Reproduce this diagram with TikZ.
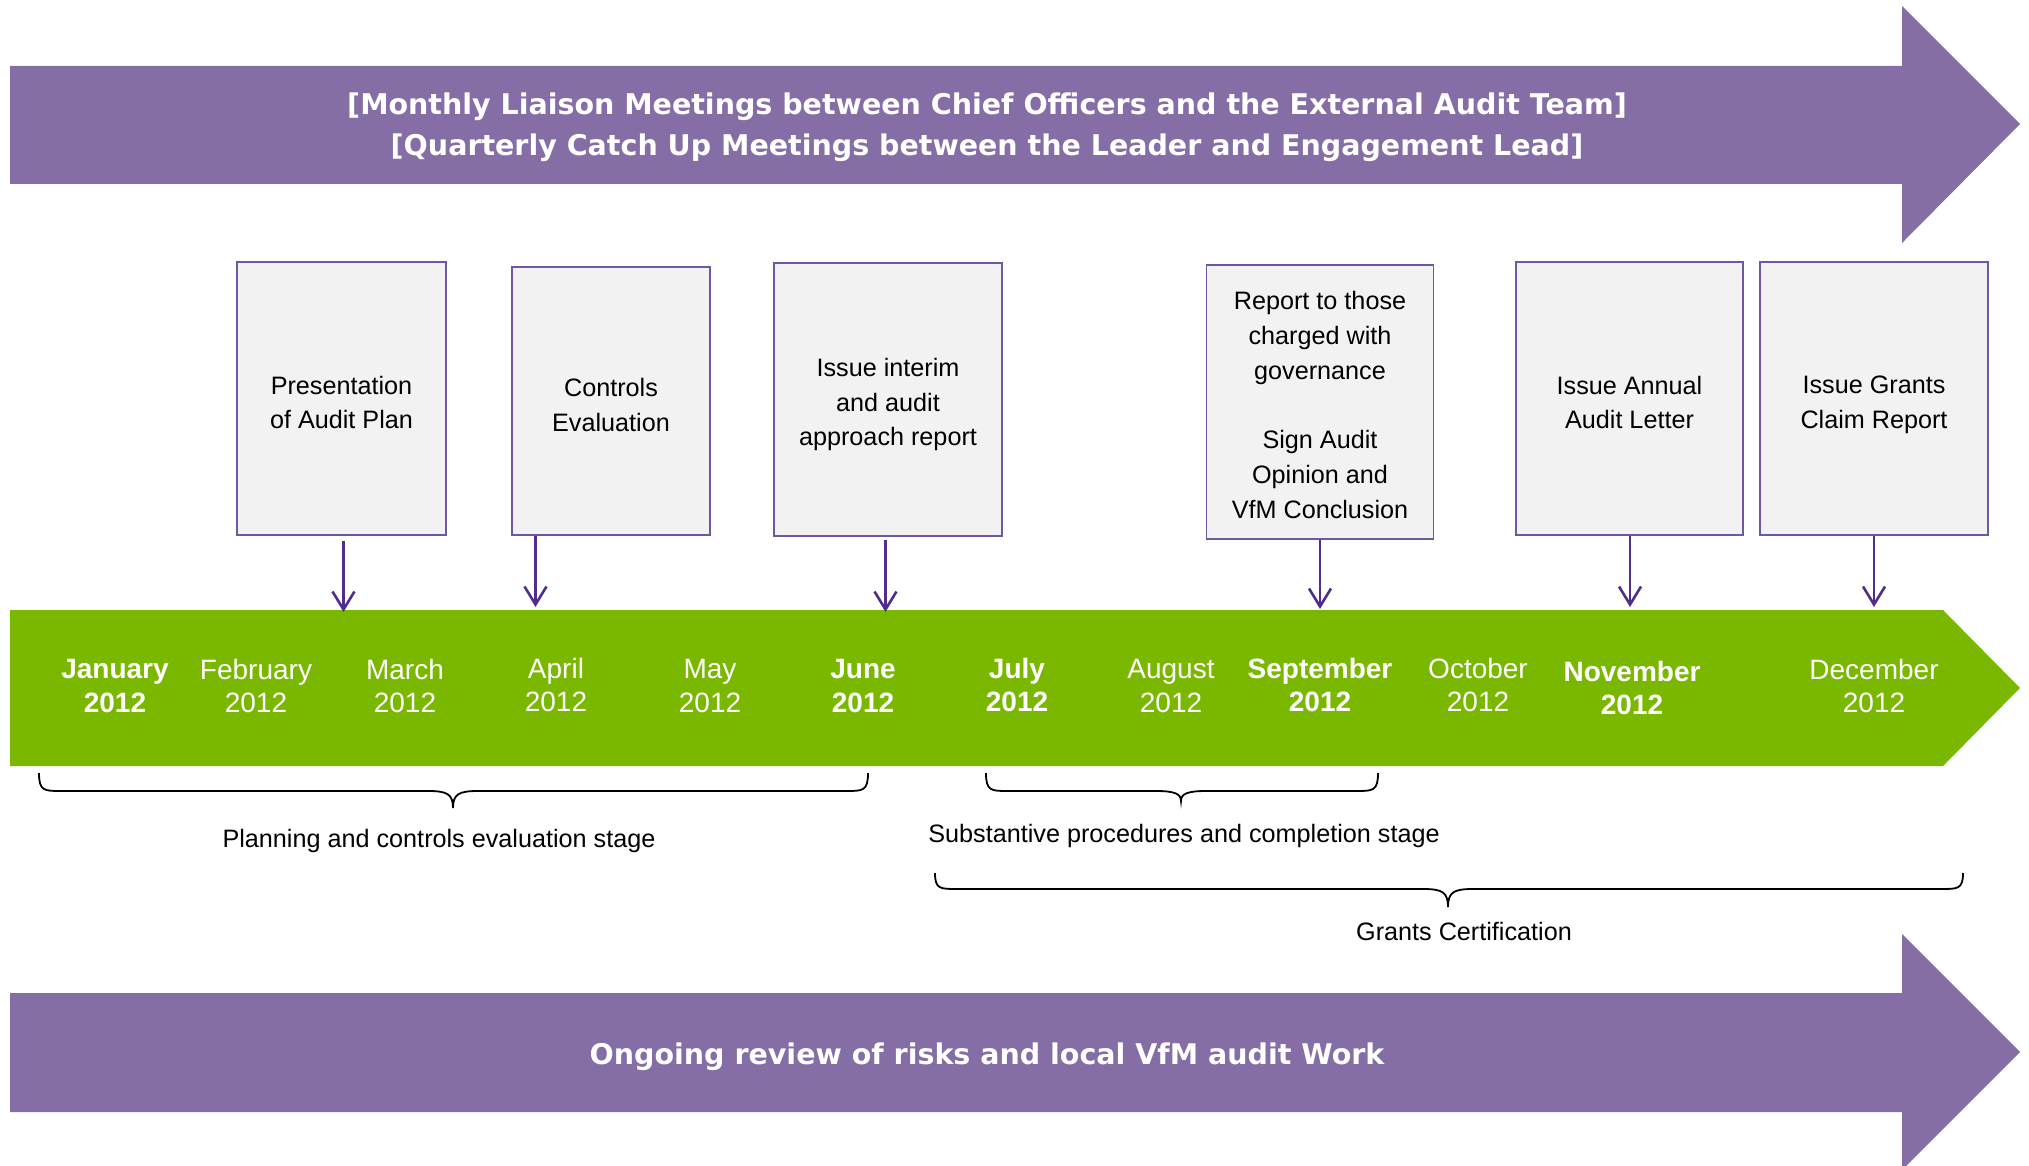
\documentclass[tikz,border=0pt]{standalone}
\usepackage{fontspec}
\setmainfont{Liberation Sans}
\newfontfamily\bannerfont{DejaVu Sans}
\usetikzlibrary{arrows.meta}
\definecolor{bandpurple}{RGB}{133,110,165}
\definecolor{bandgreen}{RGB}{122,184,0}
\definecolor{boxedge}{RGB}{112,88,160}
\definecolor{boxfill}{RGB}{242,242,242}
\definecolor{pointer}{RGB}{80,45,140}

% curly brace: left x, right x, middle x, end y, bar y, tip y
\newcommand\drawbrace[6]{%
  \draw[bracestroke] (#1,#4) .. controls (#1,#5) and ({#1+5},#5) .. ({#1+22},#5)
    -- ({#3-25},#5) .. controls ({#3-6},#5) and (#3,{#5+3}) .. (#3,#6)
    .. controls (#3,{#5+3}) and ({#3+6},#5) .. ({#3+25},#5)
    -- ({#2-22},#5) .. controls ({#2-5},#5) and (#2,#5) .. (#2,#4);}

\begin{document}
\begin{tikzpicture}[x=1pt,y=-1pt,
  eventbox/.style={draw=boxedge, fill=boxfill, line width=1.6pt, inner sep=0pt},
  eventtext/.style={inner sep=0pt, align=center,
    font=\fontsize{25.2}{34.8}\selectfont},
  pointerline/.style={draw=pointer, line width=2.6pt,
    -{Straight Barb[length=18pt,width=22pt]}},
  monthlabel/.style={text=white, align=center, inner sep=0pt,
    font=\fontsize{28}{33.6}\selectfont},
  bannertext/.style={text=white, align=center, inner sep=0pt,
    font=\bannerfont\bfseries\fontsize{28.5}{41.4}\selectfont},
  bracelabel/.style={inner sep=0pt, font=\fontsize{25.2}{30}\selectfont},
  bracestroke/.style={draw=black, line width=1.8pt}]

\useasboundingbox (0,0) rectangle (2029,1166);
\clip (0,0) rectangle (2029,1166);

% banner arrows
\fill[bandpurple] (10,66) -- (1902,66) -- (1902,6) -- (2020,124) -- (1902,243)
  -- (1902,184) -- (10,184) -- cycle;
\fill[bandpurple] (10,993) -- (1902,993) -- (1902,934) -- (2020,1052) -- (1902,1170)
  -- (1902,1112) -- (10,1112) -- cycle;
\node[bannertext] (meetings) at (987,127)
  {[Monthly Liaison Meetings between Chief Officers and the External Audit Team]\\\relax
   [Quarterly Catch Up Meetings between the Leader and Engagement Lead]};
\node[bannertext] (ongoing) at (987,1057)
  {Ongoing review of risks and local VfM audit Work};

% timeline band
\fill[bandgreen] (10,610) -- (1943,610) -- (2020,688) -- (1943,766) -- (10,766) -- cycle;

\node[monthlabel] (jan) at (115,686) {\bfseries January\\\bfseries 2012};
\node[monthlabel] (feb) at (256,686) {February\\2012};
\node[monthlabel] (mar) at (405,686) {March\\2012};
\node[monthlabel] (apr) at (556,685) {April\\2012};
\node[monthlabel] (may) at (710,686) {May\\2012};
\node[monthlabel] (jun) at (863,686) {\bfseries June\\\bfseries 2012};
\node[monthlabel] (jul) at (1017,685) {\bfseries July\\\bfseries 2012};
\node[monthlabel] (aug) at (1171,686) {August\\2012};
\node[monthlabel] (sep) at (1320,685) {\bfseries September\\\bfseries 2012};
\node[monthlabel] (oct) at (1478,685) {October\\2012};
\node[monthlabel] (nov) at (1632,688) {\bfseries November\\\bfseries 2012};
\node[monthlabel] (dec) at (1874,686) {December\\2012};

% event boxes
\node[eventbox, minimum width=209pt, minimum height=273pt] (plan) at (341.5,398.5) {};
\node[eventbox, minimum width=198pt, minimum height=268pt] (controls) at (611,401) {};
\node[eventbox, minimum width=228pt, minimum height=273pt] (interim) at (888,399.5) {};
\node[eventbox, minimum width=227pt, minimum height=274pt] (governance) at (1320,402) {};
\node[eventbox, minimum width=227pt, minimum height=273pt] (annual) at (1629.5,398.5) {};
\node[eventbox, minimum width=228pt, minimum height=273pt] (grants) at (1874,398.5) {};

\node[eventtext] (plantext) at ([yshift=-4pt]plan.center) {Presentation\\of Audit Plan};
\node[eventtext] (controlstext) at ([yshift=-4pt]controls.center) {Controls\\Evaluation};
\node[eventtext] (interimtext) at ([yshift=-5pt]interim.center)
  {Issue interim\\and audit\\approach report};
\node[eventtext] (governancetext) at ([yshift=-3pt]governance.center)
  {Report to those\\charged with\\governance\\[34.8pt]Sign Audit\\Opinion and\\VfM Conclusion};
\node[eventtext] (annualtext) at ([yshift=-4pt]annual.center) {Issue Annual\\Audit Letter};
\node[eventtext] (grantstext) at ([yshift=-6.5pt]grants.center) {Issue Grants\\Claim Report};

% pointer ends on the timeline
\coordinate (p1) at (343.5,612);
\coordinate (p2) at (535.5,607);
\coordinate (p3) at (885.5,612);
\coordinate (p4) at (1320,609);
\coordinate (p5) at (1630,607);
\coordinate (p6) at (1874,607);

\draw[pointerline, shorten <=5pt] (p1 |- plan.south) -- (p1);
\draw[pointerline] (p2 |- controls.south) -- (p2);
\draw[pointerline, shorten <=3pt] (p3 |- interim.south) -- (p3);
\draw[pointerline] (governance.south) -- (p4);
\draw[pointerline] (p5 |- annual.south) -- (p5);
\draw[pointerline] (grants.south) -- (p6);

% stage braces
\drawbrace{39}{868}{453}{773}{791}{808}
\drawbrace{986}{1378}{1181}{773}{791}{801}
\drawbrace{935}{1963}{1448}{873}{889}{907}

\node[bracelabel] (planning) at (439,841) {Planning and controls evaluation stage};
\node[bracelabel] (substantive) at (1184,836) {Substantive procedures and completion stage};
\node[bracelabel] (certification) at (1464,931) {Grants Certification};

\end{tikzpicture}
\end{document}
